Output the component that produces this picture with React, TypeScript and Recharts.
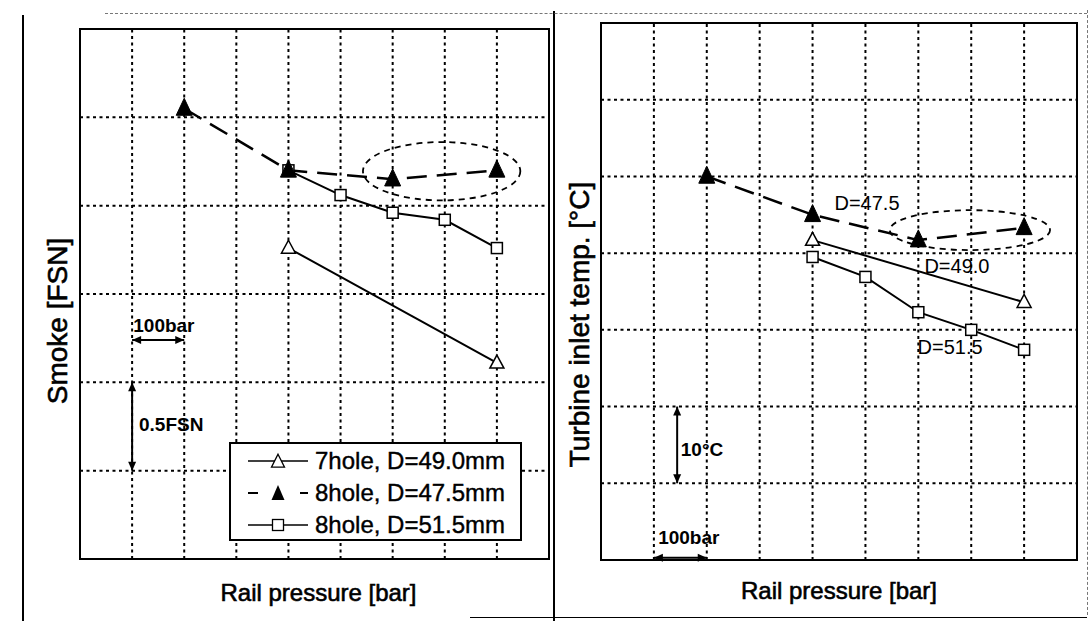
import React from 'react';
import {
  LineChart,
  Line,
  XAxis,
  YAxis,
  Legend,
  Label,
  ReferenceArea,
  ReferenceLine,
  ReferenceDot,
} from 'recharts';

const FONT = '"Liberation Sans", Arial, Helvetica, sans-serif';

// x = rail pressure step from the left frame [bar]; one grid cell = 100 bar
const pressureTicks = [100, 200, 300, 400, 500, 600, 700, 800];
// one grid cell = 0.5 FSN
const smokeTicks = [0.5, 1.0, 1.5, 2.0, 2.5];
// one grid cell = 10 degC
const tempTicks = [10, 20, 30, 40, 50, 60];

const seriesNames = ['7hole, D=49.0mm', '8hole, D=47.5mm', '8hole, D=51.5mm'];

// Smoke [FSN]
const smokeP490 = [400, 800];
const smoke490 = [1.76, 1.11];
const smokeP475 = [200, 400, 600, 800];
const smoke475 = [2.55, 2.2, 2.15, 2.2];
const smokeP515 = [400, 500, 600, 700, 800];
const smoke515 = [2.2, 2.06, 1.96, 1.92, 1.76];

// Turbine inlet temp. [degC], relative to the bottom frame
const tempP490 = [400, 800];
const temp490 = [41.7, 33.6];
const tempP475 = [200, 400, 600, 800];
const temp475 = [50.0, 45.0, 41.7, 43.3];
const tempP515 = [400, 500, 600, 700, 800];
const temp515 = [39.5, 36.9, 32.3, 30.0, 27.4];

const zip = (xs: number[], ys: number[]) => xs.map((x, i) => ({ p: x, v: ys[i] }));

const triPath = (cx: number, cy: number, w: number, h: number) =>
  `M${cx},${cy - h * 0.6} L${cx + w / 2},${cy + h * 0.4} L${cx - w / 2},${cy + h * 0.4} Z`;

// markers
const filledTri = (p: any) =>
  p.cx == null ? null : (
    <path key={`ft-${p.index}`} d={triPath(p.cx, p.cy, 16, 17)} fill="#000" stroke="#000" strokeWidth={1} />
  );
const openTri = (p: any) =>
  p.cx == null ? null : (
    <path key={`ot-${p.index}`} d={triPath(p.cx, p.cy, 14, 13)} fill="#fff" stroke="#000" strokeWidth={1.5} />
  );
const openSq = (p: any) =>
  p.cx == null ? null : (
    <rect key={`os-${p.index}`} x={p.cx - 5.5} y={p.cy - 5.5} width={11} height={11} fill="#fff" stroke="#000" strokeWidth={1.5} />
  );

// dotted grid, one reference line per tick
const gridStyle = { stroke: '#000', strokeWidth: 2, strokeDasharray: '3 3.5' };
const gridLines = (xTicks: number[], yTicks: number[]) => [
  ...xTicks.map((t) => <ReferenceLine key={`gx-${t}`} x={t} {...gridStyle} />),
  ...yTicks.map((t) => <ReferenceLine key={`gy-${t}`} y={t} {...gridStyle} />),
];

// double headed arrow for the scale marks
const doubleArrow = (p: any) => {
  const { x1, y1, x2, y2 } = p;
  const len = Math.hypot(x2 - x1, y2 - y1) || 1;
  const ux = (x2 - x1) / len;
  const uy = (y2 - y1) / len;
  const h = 9;
  const w = 4;
  const head = (tx: number, ty: number, dx: number, dy: number) =>
    `M${tx},${ty} L${tx - dx * h - dy * w},${ty - dy * h + dx * w} L${tx - dx * h + dy * w},${ty - dy * h - dx * w} Z`;
  return (
    <g>
      <line x1={x1} y1={y1} x2={x2} y2={y2} stroke="#000" strokeWidth={2} />
      <path d={head(x2, y2, ux, uy)} fill="#000" />
      <path d={head(x1, y1, -ux, -uy)} fill="#000" />
    </g>
  );
};

const dashedEllipse = (p: any) => (
  <ellipse
    cx={p.x + p.width / 2}
    cy={p.y + p.height / 2}
    rx={p.width / 2}
    ry={p.height / 2}
    fill="none"
    stroke="#000"
    strokeWidth={1.8}
    strokeDasharray="6 5"
  />
);

const yTitle = (text: string, cx: number, shift: number) => (props: any) => {
  const vb = props.viewBox;
  const x = vb.x + cx;
  const y = vb.y + vb.height / 2 + shift;
  return (
    <text x={x} y={y} transform={`rotate(-90 ${x} ${y})`} textAnchor="middle" dominantBaseline="central"
      fontSize={28} fontFamily={FONT} fill="#000" stroke="#000" strokeWidth={0.6}>
      {text}
    </text>
  );
};

const xTitle = (text: string, dx: number, below: number) => (props: any) => {
  const vb = props.viewBox;
  return (
    <text x={vb.x + vb.width / 2 + dx} y={vb.y + below} textAnchor="middle" dominantBaseline="central"
      fontSize={24} fontFamily={FONT} fill="#000" stroke="#000" strokeWidth={0.6}>
      {text}
    </text>
  );
};

const legendIcon = (name: string) => {
  if (name === seriesNames[1]) {
    return (
      <svg width={62} height={30}>
        <line x1={0} y1={15} x2={10} y2={15} stroke="#000" strokeWidth={2} />
        <path d={triPath(30, 16, 13, 15)} fill="#000" />
        <line x1={52} y1={15} x2={60} y2={15} stroke="#000" strokeWidth={2} />
      </svg>
    );
  }
  return (
    <svg width={62} height={30}>
      <line x1={0} y1={15} x2={60} y2={15} stroke="#000" strokeWidth={1.5} />
      {name === seriesNames[0] ? (
        <path d={triPath(30, 16, 13, 13)} fill="#fff" stroke="#000" strokeWidth={1.3} />
      ) : (
        <rect x={24.5} y={9.5} width={11} height={11} fill="#fff" stroke="#000" strokeWidth={1.3} />
      )}
    </svg>
  );
};

const renderLegend = (props: any) => {
  const items = [...(props.payload || [])].sort(
    (a: any, b: any) => seriesNames.indexOf(a.value) - seriesNames.indexOf(b.value),
  );
  return (
    <div style={{ boxSizing: 'border-box', width: 293, height: 99, border: '2px solid #000', background: '#fff', paddingTop: 1 }}>
      {items.map((it: any) => (
        <div key={it.value} style={{ display: 'flex', alignItems: 'center', height: 32, paddingLeft: 17 }}>
          {legendIcon(it.value)}
          <span style={{ marginLeft: 5, fontSize: 24, fontFamily: FONT, color: '#000', lineHeight: '32px', whiteSpace: 'nowrap', WebkitTextStroke: '0.4px #000' }}>
            {it.value}
          </span>
        </div>
      ))}
    </div>
  );
};

const noteLabel = (value: string, size: number, bold: boolean) => ({
  value,
  position: 'center' as const,
  fill: '#000',
  fontSize: size,
  fontFamily: FONT,
  fontWeight: bold ? 'bold' : 'normal',
});

const frame = (style: React.CSSProperties) => <div style={{ position: 'absolute', ...style }} />;

const App: React.FC = () => {
  return (
    <div style={{ position: 'absolute', left: 0, top: 0, width: 1092, height: 621, background: '#fff', overflow: 'hidden' }}>
      {frame({ left: 22, top: 15, width: 2, height: 606, background: '#000' })}
      {frame({ left: 553, top: 11, width: 2, height: 610, background: '#000' })}
      {frame({ left: 105, top: 13, width: 982, borderTop: '1px dashed #777' })}
      {frame({ left: 1087, top: 10, height: 605, borderLeft: '1px dashed #777' })}
      {frame({ left: 470, top: 617, width: 617, borderTop: '1px solid #000' })}

      {/* Smoke */}
      <div style={{ position: 'absolute', left: 0, top: 0 }}>
        <LineChart width={560} height={621} margin={{ top: 29, right: 11, bottom: 0, left: 0 }}>
          <XAxis type="number" dataKey="p" domain={[0, 900]} ticks={pressureTicks} height={62}
            tick={false} tickLine={false} axisLine={false}>
            <Label content={xTitle('Rail pressure [bar]', 4, 33)} />
          </XAxis>
          <YAxis type="number" dataKey="v" domain={[0, 3]} ticks={smokeTicks} width={80}
            tick={false} tickLine={false} axisLine={false}>
            <Label content={yTitle('Smoke [FSN]', 57, 27)} />
          </YAxis>
          {gridLines(pressureTicks, smokeTicks)}
          <ReferenceArea x1={0} x2={900} y1={0} y2={3} fill="none" stroke="#000" strokeWidth={2} />
          <ReferenceArea x1={543} x2={845} y1={2.03} y2={2.36} shape={dashedEllipse} />
          <ReferenceLine segment={[{ x: 100, y: 1.24 }, { x: 200, y: 1.24 }]} shape={doubleArrow} />
          <ReferenceLine segment={[{ x: 100, y: 1.0 }, { x: 100, y: 0.5 }]} shape={doubleArrow} />
          <ReferenceDot x={161} y={1.325} r={0} fill="none" stroke="none" label={noteLabel('100bar', 19, true)} />
          <ReferenceDot x={175} y={0.764} r={0} fill="none" stroke="none" label={noteLabel('0.5FSN', 19, true)} />

          <Line data={zip(smokeP515, smoke515)} dataKey="v" name={seriesNames[2]} stroke="#000" strokeWidth={2}
            dot={openSq} activeDot={false} isAnimationActive={false} />
          <Line data={zip(smokeP490, smoke490)} dataKey="v" name={seriesNames[0]} stroke="#000" strokeWidth={2}
            dot={openTri} activeDot={false} isAnimationActive={false} />
          <Line data={zip(smokeP475, smoke475)} dataKey="v" name={seriesNames[1]} stroke="#000" strokeWidth={2.5}
            strokeDasharray="20 10" dot={filledTri} activeDot={false} isAnimationActive={false} />

          <Legend layout="horizontal" verticalAlign="middle" align="center" content={renderLegend}
            wrapperStyle={{ left: 229, top: 442, width: 293, height: 99 }} />
        </LineChart>
      </div>

      {/* Turbine inlet temperature */}
      <div style={{ position: 'absolute', left: 546, top: 0 }}>
        <LineChart width={546} height={621} margin={{ top: 23, right: 15, bottom: 0, left: 0 }}>
          <XAxis type="number" dataKey="p" domain={[0, 900]} ticks={pressureTicks} height={61}
            tick={false} tickLine={false} axisLine={false}>
            <Label content={xTitle('Rail pressure [bar]', 0, 30)} />
          </XAxis>
          <YAxis type="number" dataKey="v" domain={[0, 70]} ticks={tempTicks} width={55}
            tick={false} tickLine={false} axisLine={false}>
            <Label content={yTitle('Turbine inlet temp. [°C]', 33, 33)} />
          </YAxis>
          {gridLines(pressureTicks, tempTicks)}
          <ReferenceArea x1={0} x2={900} y1={0} y2={70} fill="none" stroke="#000" strokeWidth={2} />
          <ReferenceArea x1={546} x2={849} y1={40.4} y2={45.6} shape={dashedEllipse} />
          <ReferenceLine segment={[{ x: 144, y: 20 }, { x: 144, y: 10 }]} shape={doubleArrow} />
          <ReferenceLine segment={[{ x: 100, y: 0.3 }, { x: 200, y: 0.3 }]} shape={doubleArrow} />
          <ReferenceDot x={191} y={14.5} r={0} fill="none" stroke="none" label={noteLabel('10°C', 19, true)} />
          <ReferenceDot x={166} y={3.0} r={0} fill="none" stroke="none" label={noteLabel('100bar', 19, true)} />
          <ReferenceDot x={503} y={46.5} r={0} fill="none" stroke="none" label={noteLabel('D=47.5', 20, false)} />
          <ReferenceDot x={673} y={38.3} r={0} fill="none" stroke="none" label={noteLabel('D=49.0', 20, false)} />
          <ReferenceDot x={660} y={27.8} r={0} fill="none" stroke="none" label={noteLabel('D=51.5', 20, false)} />

          <Line data={zip(tempP515, temp515)} dataKey="v" name={seriesNames[2]} stroke="#000" strokeWidth={2}
            dot={openSq} activeDot={false} isAnimationActive={false} />
          <Line data={zip(tempP490, temp490)} dataKey="v" name={seriesNames[0]} stroke="#000" strokeWidth={2}
            dot={openTri} activeDot={false} isAnimationActive={false} />
          <Line data={zip(tempP475, temp475)} dataKey="v" name={seriesNames[1]} stroke="#000" strokeWidth={2.5}
            strokeDasharray="20 10" dot={filledTri} activeDot={false} isAnimationActive={false} />
        </LineChart>
      </div>
    </div>
  );
};

export default App;
